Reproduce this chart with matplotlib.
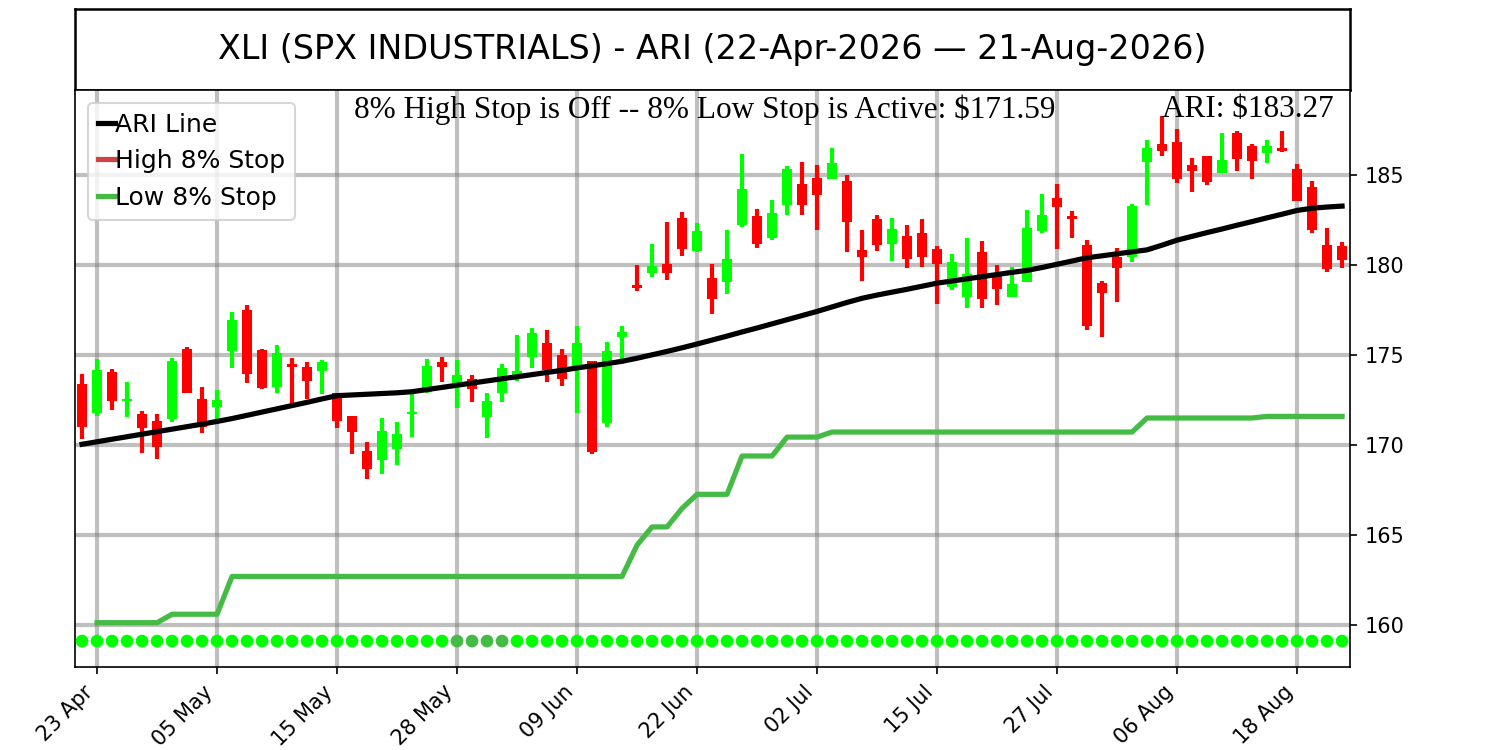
import numpy as np
import pandas as pd
import matplotlib
matplotlib.use("Agg")
import matplotlib.pyplot as plt

# trading days 22 Apr - 21 Aug 2026 (US market holidays skipped)
dates = pd.bdate_range("2026-04-22", "2026-08-21", freq="C",
                       holidays=["2026-05-25", "2026-06-19", "2026-07-03"])

opens = [173.39, 171.80, 174.04, 172.46, 171.72, 171.33, 171.44, 175.33, 172.56, 172.13,
         175.24, 177.50, 175.28, 173.24, 174.48, 174.33, 174.13, 172.87, 171.61, 169.67,
         169.19, 169.78, 171.72, 172.96, 174.61, 173.46, 173.65, 171.57, 172.91, 173.80,
         174.91, 175.69, 175.00, 174.26, 174.67, 171.24, 176.02, 178.89, 179.57, 180.06,
         182.61, 180.80, 179.28, 179.07, 182.22, 182.70, 181.48, 183.35, 184.50, 184.83,
         184.76, 184.67, 180.83, 182.56, 181.17, 181.61, 181.78, 180.89, 178.76, 178.24,
         180.70, 179.39, 178.20, 179.07, 181.89, 183.72, 182.72, 181.11, 179.02, 180.46,
         180.46, 185.70, 186.72, 186.83, 185.56, 186.06, 185.13, 187.33, 186.63, 186.20,
         186.50, 185.33, 184.33, 181.11, 181.06]
highs = [173.94, 174.78, 174.22, 173.50, 171.89, 171.72, 174.83, 175.44, 173.22, 173.06,
         177.39, 177.78, 175.33, 175.56, 174.83, 174.61, 174.72, 172.87, 171.61, 170.17,
         171.50, 171.28, 172.87, 174.78, 174.89, 174.72, 173.89, 172.87, 174.50, 176.11,
         176.50, 176.39, 175.33, 176.61, 174.67, 175.72, 176.61, 180.00, 181.17, 182.39,
         182.96, 182.33, 180.06, 181.94, 186.17, 183.11, 183.61, 185.50, 185.72, 185.56,
         186.50, 185.00, 181.94, 182.78, 182.61, 182.22, 182.56, 181.06, 180.61, 181.50,
         181.33, 180.00, 179.87, 183.06, 183.94, 184.50, 183.00, 181.39, 179.11, 180.94,
         183.39, 186.94, 188.28, 187.56, 185.94, 186.06, 187.33, 187.44, 186.74, 186.94,
         187.44, 185.61, 184.67, 182.07, 181.28]
lows = [170.33, 171.63, 171.94, 171.57, 169.57, 169.24, 171.30, 172.91, 170.68, 171.24,
        174.30, 173.46, 173.13, 172.91, 172.18, 172.56, 172.85, 170.96, 169.52, 168.13,
        168.41, 168.91, 170.46, 172.91, 173.52, 172.07, 172.41, 170.41, 172.41, 173.57,
        174.30, 173.52, 173.28, 171.76, 169.48, 171.02, 174.69, 178.57, 179.35, 179.17,
        180.50, 180.74, 177.30, 178.41, 182.13, 180.96, 181.41, 182.80, 182.80, 181.96,
        184.76, 180.74, 179.13, 180.79, 180.24, 179.85, 179.91, 177.85, 178.61, 177.63,
        177.63, 177.80, 178.20, 179.07, 181.80, 180.90, 181.52, 176.39, 176.02, 177.96,
        180.18, 183.33, 186.07, 184.57, 184.07, 184.44, 185.13, 185.22, 184.79, 185.68,
        186.28, 183.57, 181.80, 179.63, 179.85]
closes = [171.00, 174.17, 172.46, 172.57, 170.96, 169.91, 174.67, 172.91, 171.02, 172.50,
          176.94, 173.96, 173.18, 175.11, 174.35, 173.57, 174.61, 171.35, 170.72, 168.67,
          170.78, 170.63, 171.83, 174.39, 174.31, 173.87, 173.13, 172.43, 174.26, 174.13,
          176.24, 174.17, 173.65, 175.69, 169.63, 175.22, 176.26, 178.70, 179.94, 179.57,
          180.91, 181.89, 178.13, 180.33, 184.20, 181.18, 182.89, 185.33, 183.35, 183.91,
          185.67, 182.41, 180.43, 181.13, 182.00, 180.35, 180.46, 180.07, 180.18, 179.48,
          178.13, 178.68, 178.96, 182.06, 182.78, 183.24, 182.54, 176.61, 178.43, 179.85,
          183.28, 186.48, 186.35, 184.79, 185.22, 184.63, 185.83, 185.91, 185.79, 186.61,
          186.35, 183.57, 181.96, 179.80, 180.28]

ari_line = [170.04, 170.18, 170.32, 170.46, 170.60, 170.74, 170.88, 171.02, 171.16, 171.31,
            171.47, 171.65, 171.83, 172.01, 172.19, 172.37, 172.56, 172.74, 172.78, 172.82,
            172.86, 172.90, 172.96, 173.08, 173.20, 173.32, 173.44, 173.56, 173.68, 173.79,
            173.91, 174.03, 174.15, 174.28, 174.40, 174.52, 174.65, 174.82, 175.01, 175.20,
            175.40, 175.61, 175.83, 176.05, 176.28, 176.50, 176.73, 176.96, 177.19, 177.42,
            177.67, 177.92, 178.15, 178.33, 178.49, 178.65, 178.82, 178.99, 179.11, 179.23,
            179.35, 179.47, 179.59, 179.70, 179.86, 180.04, 180.22, 180.40, 180.51, 180.62,
            180.73, 180.84, 181.10, 181.38, 181.59, 181.80, 182.00, 182.21, 182.41, 182.62,
            182.82, 183.03, 183.15, 183.22, 183.27]

low_stop = ([np.nan] + [160.13] * 5 + [160.60] * 4 + [162.70] * 27 + [164.44] + [165.45] * 2
            + [166.48] + [167.26] * 3 + [169.39] * 3 + [170.44] * 3 + [170.72] * 21
            + [171.50] * 8 + [171.59] * 6)
high_stop = [np.nan] * len(dates)

signal_level = 159.11
weak_signal = [25, 26, 27, 28]

ticker = "XLI (SPX INDUSTRIALS)"
ari_now = 183.27
low_stop_now = 171.59

x = np.arange(len(dates))
o = np.array(opens); h = np.array(highs); l = np.array(lows); c = np.array(closes)
up = c >= o
cols = np.where(up, "#00ff00", "#ff0000")

fig = plt.figure(figsize=(10, 5), dpi=150)
tax = fig.add_axes([0.05, 0.88, 0.85, 0.108])
tax.set_xticks([]); tax.set_yticks([])
for s in tax.spines.values():
    s.set_linewidth(1.2)
tax.text(0.5, 0.5, f"{ticker} - ARI ({dates[0]:%d-%b-%Y} \u2014 {dates[-1]:%d-%b-%Y})",
         ha="center", va="center", fontsize=16)

ax = fig.add_axes([0.05, 0.1107, 0.85, 0.7693])
ax.vlines(x, l, h, colors=cols, linewidth=2, zorder=3)
ax.bar(x, np.abs(c - o), bottom=np.minimum(o, c), width=0.72, color=cols, zorder=3)

ax.plot(x, ari_line, color="black", lw=2.5, label="ARI Line", zorder=4)
ax.plot(x, high_stop, color="#cc4444", lw=2.5, label="High 8% Stop")
ax.plot(x, low_stop, color="#44bb44", lw=2.5, label="Low 8% Stop", zorder=2)

dot_cols = ["#44bb44" if i in weak_signal else "#00ff00" for i in x]
ax.scatter(x, [signal_level] * len(x), s=26, c=dot_cols, zorder=3)

ax.set_xlim(-0.47, 84.53)
ax.set_ylim(157.67, 189.72)
ticks = x[1::8]
ax.set_xticks(ticks)
ax.set_xticklabels([f"{d:%d %b}" for d in dates[ticks]], rotation=45, ha="right", fontsize=10)
ax.set_yticks([160, 165, 170, 175, 180, 185])
ax.yaxis.tick_right()
ax.tick_params(axis="y", labelsize=10)
ax.grid(True, color="gray", alpha=0.5, lw=2, zorder=0)
ax.set_axisbelow(True)

ax.text(0.494, 0.992, f"8% High Stop is Off -- 8% Low Stop is Active: ${low_stop_now:.2f}",
        transform=ax.transAxes, ha="center", va="top", fontsize=15, family="Liberation Serif")
ax.text(0.987, 0.992, f"ARI: ${ari_now:.2f}", transform=ax.transAxes, ha="right", va="top",
        fontsize=15, family="Liberation Serif")

ax.legend(loc="upper left", fontsize=12, handlelength=0.7, handletextpad=0.0,
          labelspacing=0.5, borderaxespad=0.5)

fig.savefig("out.png")
